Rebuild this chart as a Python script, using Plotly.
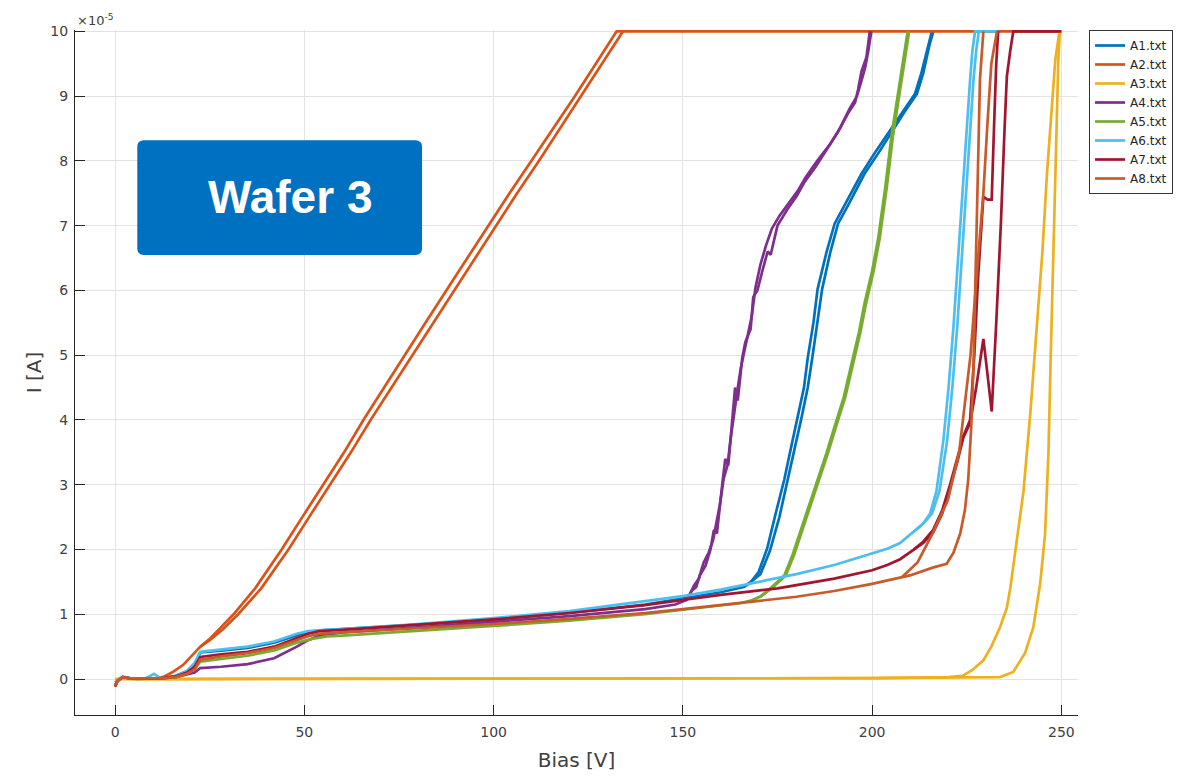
import plotly.graph_objects as go

# ---------------- data (Bias [V], I [1e-5 A]) ----------------
sensors = ["A1.txt", "A2.txt", "A3.txt", "A4.txt", "A5.txt", "A6.txt", "A7.txt", "A8.txt"]
colors = ["#0072BD", "#D95319", "#EDB120", "#7E2F8E", "#77AC30", "#4DBEEE", "#A2142F", "#C95A2B"]

a1_v1 = [0, 0.6, 2, 3.5, 6, 10, 13, 16, 19, 21, 22.5, 28, 35, 42, 48, 51, 54, 60, 80, 100, 120, 140, 150, 160, 166, 168,
         170, 172.3, 174.5, 176.8, 178.5, 180.3, 182, 183, 184.5, 185.6, 188, 190.1, 193, 197.2, 201, 205.1, 208, 211.3,
         213, 214.9, 215.8]
a1_i1 = [-0.1, -0.03, 0.03, 0.01, 0, 0.01, 0.02, 0.05, 0.12, 0.22, 0.41, 0.44, 0.48, 0.56, 0.68, 0.73, 0.75, 0.77,
         0.84, 0.92, 1.02, 1.15, 1.24, 1.34, 1.42, 1.5, 1.65, 2.02, 2.55, 3.08, 3.55, 4.02, 4.5, 4.96, 5.5, 6.02, 6.6,
         7.03, 7.35, 7.8, 8.15, 8.5, 8.75, 9.03, 9.35, 9.8, 10]
a1_v2 = [166, 168, 170.5, 173, 175.5, 177.8, 179.5, 181.3, 183, 184.2, 185.6, 186.8, 189, 191, 194, 198, 202, 205.8,
         208.5, 211.8, 213.5, 215.2, 216.2]
a1_i2 = [1.42, 1.5, 1.62, 1.98, 2.5, 3.08, 3.55, 4.02, 4.5, 4.96, 5.5, 6.02, 6.6, 7.03, 7.35, 7.8, 8.15, 8.5, 8.75,
         9.03, 9.35, 9.8, 10]

a2_v1 = [0, 0.6, 2, 4, 8, 11, 13, 15, 18, 20.5, 22.5, 25, 28, 31.3, 37, 44, 50, 55, 60.5, 65.6, 71, 76.5, 82, 87.5,
         93, 98.5, 104.2, 110, 115.8, 121.5, 127, 132.5, 250]
a2_i1 = [-0.1, -0.03, 0.03, 0.01, 0.01, 0.01, 0.04, 0.1, 0.22, 0.38, 0.5, 0.62, 0.8, 1.0, 1.4, 2.0, 2.55, 3.0, 3.5,
         4.0, 4.5, 5.0, 5.5, 6.0, 6.5, 7.0, 7.5, 8.0, 8.5, 9.0, 9.5, 10, 10]
a2_v2 = [22.5, 25, 28.5, 32.5, 38.6, 45.8, 51.8, 56.8, 62.3, 67.5, 73, 78.5, 84, 89.5, 95, 100.5, 106.2, 112, 117.6,
         123.2, 128.7, 134.2]
a2_i2 = [0.5, 0.6, 0.77, 1.0, 1.4, 2.0, 2.55, 3.0, 3.5, 4.0, 4.5, 5.0, 5.5, 6.0, 6.5, 7.0, 7.5, 8.0, 8.5, 9.0, 9.5, 10]

a3_v1 = [0, 0.6, 2, 5, 10, 50, 100, 150, 200, 215, 220, 223.9, 226.5, 229.4, 231.5, 233.8, 235.6, 236.5, 238.2, 240,
         241.8, 243.5, 245, 246.2, 247.4, 248.4, 249.5]
a3_i1 = [-0.05, 0, 0.01, 0, 0, 0, 0.005, 0.01, 0.015, 0.02, 0.03, 0.05, 0.14, 0.29, 0.5, 0.8, 1.1, 1.4, 2.1, 2.9,
         4.1, 5.4, 6.6, 7.8, 8.7, 9.56, 10]
a3_v2 = [0, 50, 100, 150, 200, 225, 233.8, 237.3, 240.4, 242.6, 244.4, 245.7, 246.6, 247.2, 247.9, 248.6, 249.2, 249.6]
a3_i2 = [0, 0, 0.005, 0.01, 0.015, 0.02, 0.03, 0.11, 0.4, 0.8, 1.47, 2.24, 3.5, 5.0, 6.6, 8.2, 9.56, 10]

a4_v1 = [0, 0.6, 2, 4, 8, 12, 16, 19, 21, 22.5, 28, 35, 42, 48, 51, 54, 60, 80, 100, 120, 140, 148, 151, 152.4,
         153.5, 154.5, 156, 157.3, 158.2, 159, 160.4, 161.2, 162, 163, 163.8, 164.5, 165.7, 166.5, 167.9, 168.6,
         169.7, 171, 172.4, 173.2, 175, 177.7, 180, 182.1, 185, 188.3, 191, 193.6, 195.5, 196.3, 197.2, 198.5, 199.4]
a4_i1 = [-0.1, -0.03, 0.03, 0.01, 0.01, 0.01, 0.03, 0.07, 0.1, 0.17, 0.19, 0.23, 0.32, 0.5, 0.6, 0.67, 0.72, 0.8,
         0.88, 0.97, 1.08, 1.15, 1.22, 1.37, 1.42, 1.6, 1.75, 2.0, 2.3, 2.25, 3.0, 3.4, 3.3, 4.0, 4.5, 4.3, 4.96, 5.2,
         5.4, 5.9, 6.0, 6.3, 6.6, 6.55, 7.0, 7.26, 7.45, 7.67, 7.9, 8.2, 8.45, 8.73, 8.9, 9.1, 9.38, 9.6, 10]
a4_v2 = [150, 151.8, 153, 154.2, 155.5, 156.8, 158, 159, 159.8, 160.8, 161.8, 162.6, 163.5, 164.4, 165.3, 166, 167,
         168.2, 169.2, 170.5, 172, 173.5, 175.5, 178, 180.5, 182.5, 185.5, 188.8, 191.5, 194, 196, 197.5, 198.2, 199,
         199.8]
a4_i2 = [1.25, 1.3, 1.45, 1.55, 1.8, 1.95, 2.15, 2.45, 2.7, 3.1, 3.3, 3.7, 4.1, 4.45, 4.8, 5.0, 5.3, 5.6, 6.05, 6.4,
         6.7, 6.95, 7.15, 7.35, 7.55, 7.75, 8.0, 8.25, 8.5, 8.8, 9.0, 9.3, 9.45, 9.7, 10]

a5_v1 = [0, 0.6, 2, 4, 8, 12, 16, 19, 21, 22.5, 28, 35, 42, 48, 52, 56, 60, 80, 100, 120, 140, 150, 160, 165, 168,
         170.6, 173.5, 176.8, 179, 181.2, 183.5, 185.6, 188, 190.1, 192.5, 194.5, 196.5, 198, 200, 201.6, 203.5, 205.1,
         206.5, 207.8, 209.4]
a5_i1 = [-0.1, -0.03, 0.03, 0.01, 0.01, 0.01, 0.03, 0.09, 0.15, 0.27, 0.31, 0.36, 0.44, 0.56, 0.62, 0.66, 0.67, 0.74,
         0.82, 0.9, 1.0, 1.07, 1.13, 1.17, 1.21, 1.28, 1.42, 1.6, 1.92, 2.3, 2.7, 3.08, 3.5, 3.9, 4.35, 4.85, 5.35, 5.8,
         6.3, 6.8, 7.6, 8.38, 8.9, 9.44, 10]
a5_v2 = [168, 170.8, 173.9, 177.2, 179.4, 181.6, 183.9, 186, 188.4, 190.5, 192.9, 194.9, 196.9, 198.4, 200.4, 202,
         203.9, 205.5, 206.9, 208.2, 209.8]
a5_i2 = [1.21, 1.28, 1.42, 1.6, 1.92, 2.3, 2.7, 3.08, 3.5, 3.9, 4.35, 4.85, 5.35, 5.8, 6.3, 6.8, 7.6, 8.38, 8.9,
         9.44, 10]

a6_v1 = [0, 0.6, 2, 4, 8, 10.3, 12, 16, 19, 21, 22.5, 28, 35, 42, 48, 51, 54, 60, 80, 100, 120, 140, 150, 160, 170,
         180, 190, 200, 204, 207.4, 211, 213.5, 215.3, 217, 218.8, 220.2, 221.5, 222.8, 224.1, 225, 225.9, 226.5,
         227.2, 233]
a6_i1 = [-0.1, -0.03, 0.04, 0.01, 0.01, 0.08, 0.01, 0.04, 0.13, 0.25, 0.42, 0.46, 0.5, 0.58, 0.7, 0.74, 0.75, 0.77,
         0.85, 0.94, 1.05, 1.2, 1.28, 1.38, 1.5, 1.62, 1.76, 1.93, 2.01, 2.1, 2.27, 2.4, 2.55, 2.9, 3.67, 4.5, 5.44,
         6.6, 7.8, 8.6, 9.26, 9.7, 10, 10]
a6_v2 = [211, 213.5, 215.8, 217.8, 219.8, 221.2, 222.5, 223.8, 225, 226, 226.8, 227.5, 228.2]
a6_i2 = [2.27, 2.4, 2.55, 2.9, 3.67, 4.5, 5.44, 6.6, 7.8, 8.6, 9.26, 9.7, 10]

a7_v1 = [0, 0.6, 2, 4, 8, 12, 16, 19, 21, 22.5, 28, 35, 42, 48, 51, 54, 60, 80, 100, 120, 140, 150, 160, 175, 190,
         200, 204, 207.4, 211, 213.5, 216.1, 218.5, 220.6, 222.5, 224.1, 225.9, 227.5, 228.6, 229.4, 230.5, 231.6,
         232.8, 234, 235, 235.6, 236.5, 237.3, 250]
a7_i1 = [-0.12, -0.03, 0.03, 0.01, 0.01, 0.01, 0.04, 0.1, 0.19, 0.34, 0.38, 0.42, 0.5, 0.63, 0.7, 0.74, 0.76, 0.84,
         0.92, 1.02, 1.14, 1.22, 1.3, 1.4, 1.55, 1.68, 1.76, 1.85, 2.0, 2.1, 2.26, 2.55, 2.96, 3.35, 3.73, 3.95, 4.5,
         4.9, 5.25, 4.7, 4.13, 5.5, 7.0, 8.5, 9.3, 9.7, 10, 10]
a7_v2 = [211, 213.5, 216.1, 218.5, 220.6, 222.5, 224.1, 225.9, 227, 228, 229.4, 230.5, 231.6, 232.2, 232.8, 233.3]
a7_i2 = [2.0, 2.12, 2.3, 2.6, 3.0, 3.4, 3.75, 4.0, 5.0, 6.2, 7.45, 7.4, 7.4, 8.5, 9.5, 10]

a8_v1 = [0, 0.6, 2, 4, 8, 12, 16, 19, 21, 22.5, 28, 35, 42, 48, 51, 54, 60, 80, 100, 120, 140, 150, 165, 180, 190,
         200, 210, 216, 219.7, 221.5, 223.3, 224.5, 225.4, 226.2, 226.8, 227.7, 228.5, 229.4]
a8_i1 = [-0.1, -0.03, 0.03, 0.01, 0.01, 0.01, 0.03, 0.08, 0.15, 0.3, 0.35, 0.4, 0.48, 0.6, 0.66, 0.7, 0.72, 0.78,
         0.85, 0.93, 1.02, 1.08, 1.17, 1.27, 1.36, 1.47, 1.6, 1.72, 1.78, 1.95, 2.25, 2.6, 3.08, 3.9, 4.85, 7.2, 9.26, 10]
a8_v2 = [208, 212, 216, 220, 223, 226, 228, 229.4, 230.5, 231.5, 233]
a8_i2 = [1.58, 1.8, 2.25, 2.76, 3.5, 5.0, 6.5, 7.5, 8.6, 9.5, 10]

sweeps = [
    (a1_v1, a1_i1, a1_v2, a1_i2),
    (a2_v1, a2_i1, a2_v2, a2_i2),
    (a3_v1, a3_i1, a3_v2, a3_i2),
    (a4_v1, a4_i1, a4_v2, a4_i2),
    (a5_v1, a5_i1, a5_v2, a5_i2),
    (a6_v1, a6_i1, a6_v2, a6_i2),
    (a7_v1, a7_i1, a7_v2, a7_i2),
    (a8_v1, a8_i1, a8_v2, a8_i2),
]

x_ticks = [0, 50, 100, 150, 200, 250]
y_ticks = [0, 1, 2, 3, 4, 5, 6, 7, 8, 9, 10]
wafer_label = "Wafer 3"

# ---------------- figure ----------------
fig = go.Figure()
for name, col, (v1, i1, v2, i2) in zip(sensors, colors, sweeps):
    fig.add_trace(go.Scatter(x=v1, y=i1, mode="lines", name=name, legendgroup=name,
                             line=dict(color=col, width=2.7), showlegend=True))
    fig.add_trace(go.Scatter(x=v2, y=i2, mode="lines", name=name, legendgroup=name,
                             line=dict(color=col, width=2.7), showlegend=False))

axis_col = "#262626"
txt_col = "#404040"
grid_col = "#E3E3E3"
font_main = "DejaVu Sans"

fig.update_layout(
    width=1178, height=777,
    margin=dict(l=75, r=100, t=30, b=62, autoexpand=False),
    paper_bgcolor="white", plot_bgcolor="white",
    font=dict(family=font_main, color=axis_col),
    legend=dict(x=1.011, y=1.0, xanchor="left", yanchor="top",
                bordercolor="#333333", borderwidth=1, bgcolor="white",
                font=dict(size=12, family=font_main, color=axis_col),
                tracegroupgap=0, itemwidth=30),
    xaxis=dict(range=[-10.6, 254.4], tickvals=x_ticks, ticks="inside", ticklen=10,
               tickcolor=axis_col, showline=True, linecolor=axis_col, linewidth=1,
               showgrid=True, gridcolor=grid_col, zeroline=False, automargin=False,
               ticklabelstandoff=4,
               tickfont=dict(size=14, color=txt_col),
               title=dict(text="Bias [V]", font=dict(size=20, color=txt_col), standoff=14)),
    yaxis=dict(range=[-0.555, 10.02], tickvals=y_ticks, ticks="inside", ticklen=10,
               tickcolor=axis_col, showline=True, linecolor=axis_col, linewidth=1,
               showgrid=True, gridcolor=grid_col, zeroline=False, automargin=False,
               ticklabelstandoff=3,
               tickfont=dict(size=14, color=txt_col),
               title=dict(text="I [A]", font=dict(size=20, color=txt_col), standoff=3)),
)

# exponent label
fig.add_annotation(xref="paper", yref="paper", x=0.0, y=1.0, xanchor="left", yanchor="bottom",
                   text="×10<sup>-5</sup>", showarrow=False,
                   font=dict(size=13, color=txt_col, family=font_main))

# rounded "Wafer 3" box (paper coords)
x0, x1, y0, y1 = 0.0621, 0.3460, 0.6716, 0.8389
rx, ry = 0.0065, 0.0095
path = (f"M {x0+rx},{y0} L {x1-rx},{y0} Q {x1},{y0} {x1},{y0+ry} "
        f"L {x1},{y1-ry} Q {x1},{y1} {x1-rx},{y1} L {x0+rx},{y1} Q {x0},{y1} {x0},{y1-ry} "
        f"L {x0},{y0+ry} Q {x0},{y0} {x0+rx},{y0} Z")
fig.add_shape(type="path", path=path, xref="paper", yref="paper",
              fillcolor="#0070C0", line=dict(width=0), layer="above")
fig.add_annotation(xref="paper", yref="paper", x=0.2148, y=0.7555,
                   xanchor="center", yanchor="middle",
                   text=wafer_label, showarrow=False,
                   font=dict(size=46, color="white", family="Liberation Sans", weight="bold"))

fig.write_html("out.html", config={"displayModeBar": False},
               post_script="document.body.style.margin='0';")
